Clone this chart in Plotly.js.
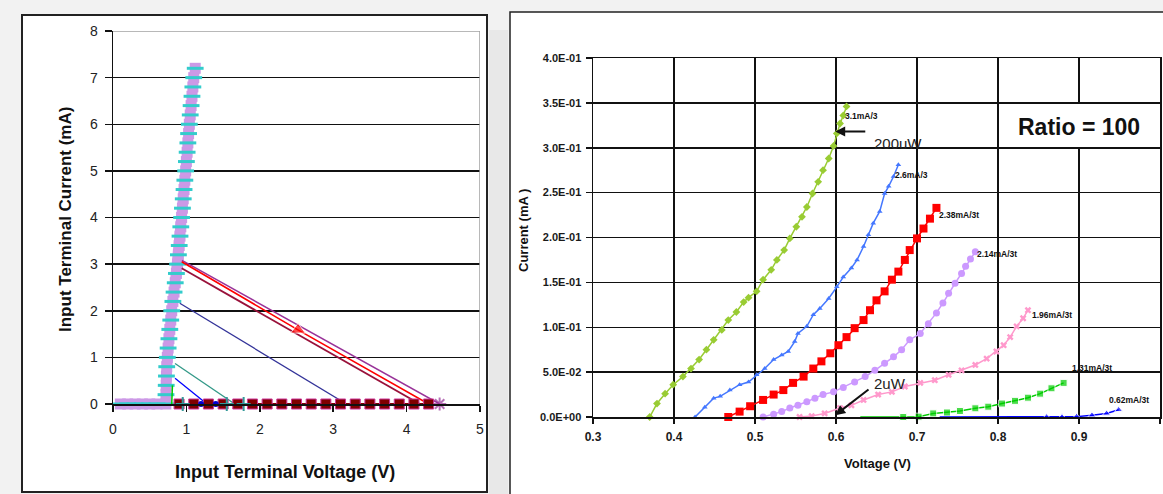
<!DOCTYPE html>
<html><head><meta charset="utf-8">
<script src="https://cdn.plot.ly/plotly-3.0.1.min.js"></script>
<style>html,body{margin:0;padding:0;background:#f2f2f2;}#chart{width:1163px;height:494px;}</style>
</head><body><div id="chart"></div>
<script>
// ---------- LEFT CHART DATA (Input Terminal Voltage V / Current mA) ----------
const rampV = [0.10,0.20,0.30,0.40,0.50,0.60,0.72,0.722,0.725,0.728,0.732,0.74,0.751,0.762,0.774,0.787,0.80,0.816,0.832,0.848,0.864,0.88,0.891,0.902,0.913,0.924,0.935,0.946,0.957,0.968,0.979,0.99,1.0,1.01,1.02,1.03,1.04,1.052,1.064,1.076,1.088,1.10,1.12];
const rampI = [0,0,0,0,0,0,0,0.2,0.4,0.6,0.8,1.0,1.2,1.4,1.6,1.8,2.0,2.2,2.4,2.6,2.8,3.0,3.2,3.4,3.6,3.8,4.0,4.2,4.4,4.6,4.8,5.0,5.2,5.4,5.6,5.8,6.0,6.2,6.4,6.6,6.8,7.0,7.2];
const loadBlueV = [0.845,1.28],  loadBlueI = [0.55,0];
const loadTealV = [0.845,1.66],  loadTealI = [0.87,0];
const loadNavyV = [0.91,3.18],   loadNavyI = [2.16,0];
const loadMaroonV = [0.936,4.18], loadMaroonI = [2.91,0];
const loadRedV = [0.936,2.52,4.30], loadRedI = [3.05,1.59,0];
const loadPurpleV = [0.94,4.45], loadPurpleI = [3.08,0];
const lowGreenV = [0.80,0.81], lowGreenI = [0,0.4];
const baseSqV = [0.9,1.1,1.3,1.5,1.7,1.9,2.1,2.3,2.5,2.7,2.9,3.1,3.3,3.5,3.7,3.9,4.1,4.3];
const baseSqI = [0,0,0,0,0,0,0,0,0,0,0,0,0,0,0,0,0,0];
const baseBlueV = [1.2,1.4], baseBlueI = [0,0];
const baseTealV = [0.95,1.55,1.78], baseTealI = [0,0,0];

// ---------- RIGHT CHART DATA (Voltage V / Current mA), Ratio = 100 ----------
const s31V = [0.370,0.379,0.389,0.399,0.411,0.421,0.431,0.440,0.449,0.459,0.467,0.477,0.486,0.492,0.502,0.510,0.520,0.527,0.536,0.543,0.551,0.558,0.564,0.571,0.578,0.584,0.591,0.597,0.601,0.605,0.609,0.613];
const s31I = [0,0.015,0.026,0.036,0.045,0.054,0.064,0.075,0.086,0.097,0.108,0.117,0.128,0.133,0.140,0.153,0.164,0.175,0.186,0.199,0.212,0.223,0.234,0.249,0.262,0.275,0.288,0.302,0.316,0.327,0.336,0.346];
const s26V = [0.426,0.438,0.449,0.457,0.469,0.481,0.492,0.502,0.512,0.523,0.533,0.541,0.549,0.553,0.564,0.572,0.580,0.591,0.601,0.609,0.619,0.626,0.634,0.640,0.646,0.654,0.660,0.665,0.671,0.677];
const s26I = [0,0.011,0.021,0.023,0.030,0.036,0.039,0.047,0.054,0.064,0.069,0.073,0.084,0.093,0.101,0.114,0.121,0.132,0.145,0.156,0.166,0.175,0.190,0.203,0.216,0.229,0.249,0.257,0.268,0.281];
const s238V = [0.467,0.481,0.494,0.510,0.523,0.535,0.547,0.560,0.572,0.582,0.593,0.603,0.613,0.623,0.634,0.642,0.650,0.660,0.669,0.677,0.685,0.691,0.700,0.708,0.716,0.724];
const s238I = [0,0.006,0.012,0.019,0.025,0.030,0.038,0.045,0.054,0.062,0.071,0.080,0.089,0.099,0.108,0.119,0.130,0.140,0.153,0.162,0.175,0.186,0.199,0.210,0.221,0.233];
const s214V = [0.510,0.523,0.533,0.543,0.553,0.564,0.574,0.584,0.597,0.609,0.623,0.636,0.648,0.660,0.671,0.681,0.691,0.704,0.714,0.724,0.732,0.739,0.747,0.755,0.760,0.766,0.772];
const s214I = [0,0.003,0.006,0.010,0.013,0.017,0.021,0.025,0.028,0.033,0.039,0.045,0.052,0.060,0.067,0.075,0.086,0.093,0.104,0.116,0.127,0.138,0.149,0.160,0.168,0.176,0.184];
const s196V = [0.555,0.570,0.586,0.605,0.619,0.634,0.652,0.669,0.685,0.704,0.722,0.739,0.755,0.772,0.786,0.798,0.807,0.815,0.823,0.831,0.837];
const s196I = [0,0.001,0.004,0.010,0.013,0.019,0.025,0.028,0.034,0.038,0.041,0.047,0.052,0.058,0.065,0.073,0.080,0.089,0.101,0.110,0.119];
const s131V = [0.630,0.683,0.702,0.720,0.737,0.753,0.772,0.788,0.805,0.821,0.837,0.852,0.866,0.881];
const s131I = [0,0,0.0004,0.004,0.005,0.0067,0.0097,0.0115,0.015,0.018,0.0215,0.026,0.032,0.038];
const s062V = [0.728,0.860,0.879,0.897,0.916,0.934,0.949];
const s062I = [0,0,0,0.0004,0.002,0.004,0.008];
const seriesLabels = ['3.1mA/3','2.6mA/3','2.38mA/3t','2.14mA/3t','1.96mA/3t','1.31mA/3t','0.62mA/3t'];
const labelV = [0.609,0.670,0.725,0.772,0.840,0.889,0.935];
const labelI = [0.335,0.270,0.225,0.182,0.114,0.055,0.019];
const rightXTicks = [0.3,0.4,0.5,0.6,0.7,0.8,0.9,1.0];
const rightXText = ['0.3','0.4','0.5','0.6','0.7','0.8','0.9','1'];
const rightYTicks = [0,0.05,0.1,0.15,0.2,0.25,0.3,0.35,0.4];
const rightYText = ['0.0E+00','5.0E-02','1.0E-01','1.5E-01','2.0E-01','2.5E-01','3.0E-01','3.5E-01','4.0E-01'];

// ---------- helpers for layout positions ----------
const W = 1163, H = 494;
const px = x => x / W, py = y => 1 - y / H;
const FONT = 'Liberation Sans, Arial, sans-serif';

function line(x, y, color, width, xa, ya, extra) {
  return Object.assign({x, y, xaxis: xa, yaxis: ya, type: 'scatter', mode: 'lines',
    line: {color, width}, cliponaxis: false, hoverinfo: 'skip'}, extra || {});
}

const traces = [];
// left chart
traces.push(line(rampV, rampI, '#cc99e6', 9, 'x', 'y', {mode: 'lines+markers', marker: {symbol: 'square', size: 11, color: '#cc99e6'}}));
traces.push(line(rampV, rampI, '#33cccc', 0, 'x', 'y', {mode: 'markers', marker: {symbol: 'line-ew', size: 12, line: {color: '#33cccc', width: 3}}}));
traces.push(line(lowGreenV, lowGreenI, '#00cc00', 1.5, 'x', 'y'));
traces.push(line(loadBlueV, loadBlueI, '#0000ff', 1.3, 'x', 'y'));
traces.push(line(loadTealV, loadTealI, '#339988', 1.3, 'x', 'y'));
traces.push(line(loadNavyV, loadNavyI, '#333399', 1.3, 'x', 'y'));
traces.push(line(loadMaroonV, loadMaroonI, '#99113a', 1.8, 'x', 'y'));
traces.push(line(loadPurpleV, loadPurpleI, '#993399', 1.5, 'x', 'y', {mode: 'lines+markers', marker: {symbol: 'asterisk-open', size: [0, 11], line: {color: '#993399', width: 2}}}));
traces.push(line(loadRedV, loadRedI, '#ff0000', 1.6, 'x', 'y', {mode: 'lines+markers', marker: {symbol: 'triangle-up', size: [0, 13, 0], color: '#ff0000'}}));
traces.push(line(baseSqV, baseSqI, '#800000', 2, 'x', 'y', {mode: 'lines+markers', marker: {symbol: 'square', size: 10, color: '#800000', line: {color: '#cc3399', width: 1}}}));
traces.push(line(baseBlueV, baseBlueI, '#0000cc', 0, 'x', 'y', {mode: 'markers', marker: {symbol: 'circle', size: 6, color: '#0000cc'}}));
traces.push(line(baseTealV, baseTealI, '#339999', 0, 'x', 'y', {mode: 'markers', marker: {symbol: 'cross-thin-open', size: 10, line: {color: '#339999', width: 2}}}));

// right chart
traces.push(line(s31V, s31I, '#99cc33', 1.5, 'x2', 'y2', {mode: 'lines+markers', marker: {symbol: 'diamond', size: 6, color: '#99cc33'}}));
traces.push(line(s26V, s26I, '#4477ff', 1.5, 'x2', 'y2', {mode: 'lines+markers', marker: {symbol: 'triangle-up', size: 5, color: '#4477ff'}}));
traces.push(line(s238V, s238I, '#ff0000', 1.5, 'x2', 'y2', {mode: 'lines+markers', marker: {symbol: 'square', size: 8, color: '#ff0000'}}));
traces.push(line(s214V, s214I, '#cc99ff', 1.5, 'x2', 'y2', {mode: 'lines+markers', marker: {symbol: 'circle', size: 7, color: '#cc99ff'}}));
traces.push(line(s196V, s196I, '#ff99cc', 1.5, 'x2', 'y2', {mode: 'lines+markers', marker: {symbol: 'x', size: 6, color: '#ff99cc'}}));
traces.push(line(s131V, s131I, '#00cc00', 1.5, 'x2', 'y2', {mode: 'lines+markers', marker: {symbol: 'square', size: s131V.map((v, i) => i === 0 ? 0 : 7), color: '#00cc00'}}));
traces.push(line(s062V, s062I, '#0000ff', 1.5, 'x2', 'y2', {mode: 'lines+markers', marker: {symbol: 'triangle-up', size: s062V.map((v, i) => i === 0 ? 0 : 7), color: '#0000ff'}}));

const annotations = [];
seriesLabels.forEach((t, i) => annotations.push({x: labelV[i], y: labelI[i], xref: 'x2', yref: 'y2', text: t,
  showarrow: false, xanchor: 'left', yanchor: 'middle', font: {family: FONT, size: 8.5, color: '#111', weight: 'bold'}}));
annotations.push({x: 0.644, y: 0.305, xref: 'x2', yref: 'y2', text: '200uW', showarrow: false, xanchor: 'left', yanchor: 'middle', font: {family: FONT, size: 15, color: '#222'}});
annotations.push({x: 0.644, y: 0.037, xref: 'x2', yref: 'y2', text: '2uW', showarrow: false, xanchor: 'left', yanchor: 'middle', font: {family: FONT, size: 15, color: '#222'}});
annotations.push({x: 0.599, y: 0.318, xref: 'x2', yref: 'y2', ax: 0.638, ay: 0.318, axref: 'x2', ayref: 'y2', text: '', showarrow: true, arrowhead: 2, arrowsize: 1, arrowwidth: 2, arrowcolor: '#111'});
annotations.push({x: 0.599, y: 0.002, xref: 'x2', yref: 'y2', ax: 0.642, ay: 0.032, axref: 'x2', ayref: 'y2', text: '', showarrow: true, arrowhead: 2, arrowsize: 1, arrowwidth: 2, arrowcolor: '#111'});
const C = {xanchor: 'center', yanchor: 'middle', xref: 'paper', yref: 'paper', showarrow: false};
annotations.push(Object.assign({x: px(1079), y: py(127), text: 'Ratio = 100', font: {family: FONT, size: 23, color: '#111', weight: 'bold'}}, C));
// axis titles
annotations.push(Object.assign({x: px(65), y: py(220), text: 'Input Terminal Current (mA)', textangle: -90, font: {family: FONT, size: 17, color: '#111', weight: 'bold'}}, C));
annotations.push(Object.assign({x: px(285), y: py(472), text: 'Input Terminal Voltage (V)', font: {family: FONT, size: 18, color: '#111', weight: 'bold'}}, C));
annotations.push(Object.assign({x: px(523), y: py(231), text: 'Current (mA )', textangle: -90, font: {family: FONT, size: 13, color: '#111', weight: 'bold'}}, C));
annotations.push(Object.assign({x: px(877), y: py(463), text: 'Voltage (V)', font: {family: FONT, size: 13, color: '#111', weight: 'bold'}}, C));

const shapes = [
  // left panel
  {type: 'rect', xref: 'paper', yref: 'paper', x0: px(22), x1: px(487), y0: py(492), y1: py(15), fillcolor: '#ffffff', line: {color: '#222', width: 2}, layer: 'below'},
  // gap strip
  {type: 'rect', xref: 'paper', yref: 'paper', x0: px(489), x1: px(508), y0: 0, y1: py(30), fillcolor: '#e8e8e8', line: {width: 0}, layer: 'below'},
  // right panel
  {type: 'rect', xref: 'paper', yref: 'paper', x0: px(510), x1: 1.02, y0: -0.02, y1: py(12), fillcolor: '#ffffff', line: {color: '#222', width: 1.5}, layer: 'below'},
  // left plot top & right borders (gray)
  {type: 'line', xref: 'x', yref: 'y', x0: 0, x1: 5, y0: 8, y1: 8, line: {color: '#a0a0a0', width: 1.5}},
  {type: 'line', xref: 'x', yref: 'y', x0: 5, x1: 5, y0: 0, y1: 8, line: {color: '#a0a0a0', width: 1.5}},
  // Ratio box
  {type: 'rect', xref: 'paper', yref: 'paper', x0: px(1002), x1: px(1155), y0: py(147), y1: py(104), fillcolor: '#ffffff', line: {width: 0}}
];

const tickFontL = {family: FONT, size: 14, color: '#222'};
const tickFontR = {family: FONT, size: 11, color: '#1a1a1a', weight: 'bold'};

const layout = {
  width: W, height: H, margin: {l: 0, r: 0, t: 0, b: 0},
  paper_bgcolor: '#f2f2f2', plot_bgcolor: 'rgba(0,0,0,0)', showlegend: false,
  xaxis: {domain: [px(113), px(480)], range: [0, 5], dtick: 1, tick0: 0, anchor: 'y', showgrid: false, zeroline: false,
    showline: true, linecolor: '#111', linewidth: 1.5, ticks: 'outside', ticklen: 6, tickwidth: 1.5, tickcolor: '#111',
    tickfont: tickFontL, ticklabelstandoff: 6, fixedrange: true},
  yaxis: {domain: [py(404), py(31)], range: [0, 8], dtick: 1, tick0: 0, anchor: 'x', showgrid: true, gridcolor: '#111', gridwidth: 1.5,
    zeroline: false, showline: true, linecolor: '#111', linewidth: 1.5, ticks: 'outside', ticklen: 7, tickwidth: 1.5, tickcolor: '#111',
    tickfont: tickFontL, ticklabelstandoff: 4, fixedrange: true},
  xaxis2: {domain: [px(593), px(1160)], range: [0.3, 1.0], anchor: 'y2', tickvals: rightXTicks, ticktext: rightXText,
    showgrid: true, gridcolor: '#111', gridwidth: 1.5, zeroline: false, showline: true, mirror: true, linecolor: '#111', linewidth: 1.5,
    ticks: 'outside', ticklen: 5, tickwidth: 1.5, tickcolor: '#111', tickfont: Object.assign({}, tickFontR, {size: 12}), ticklabelstandoff: 3, fixedrange: true},
  yaxis2: {domain: [py(417), py(58)], range: [0, 0.4], anchor: 'x2', tickvals: rightYTicks, ticktext: rightYText,
    showgrid: true, gridcolor: '#111', gridwidth: 1.5, zeroline: false, showline: true, mirror: true, linecolor: '#111', linewidth: 1.5,
    ticks: 'outside', ticklen: 6, tickwidth: 1.5, tickcolor: '#111', tickfont: tickFontR, ticklabelstandoff: 2, fixedrange: true},
  shapes, annotations
};

Plotly.newPlot('chart', traces, layout, {displayModeBar: false, staticPlot: true});
</script></body></html>
